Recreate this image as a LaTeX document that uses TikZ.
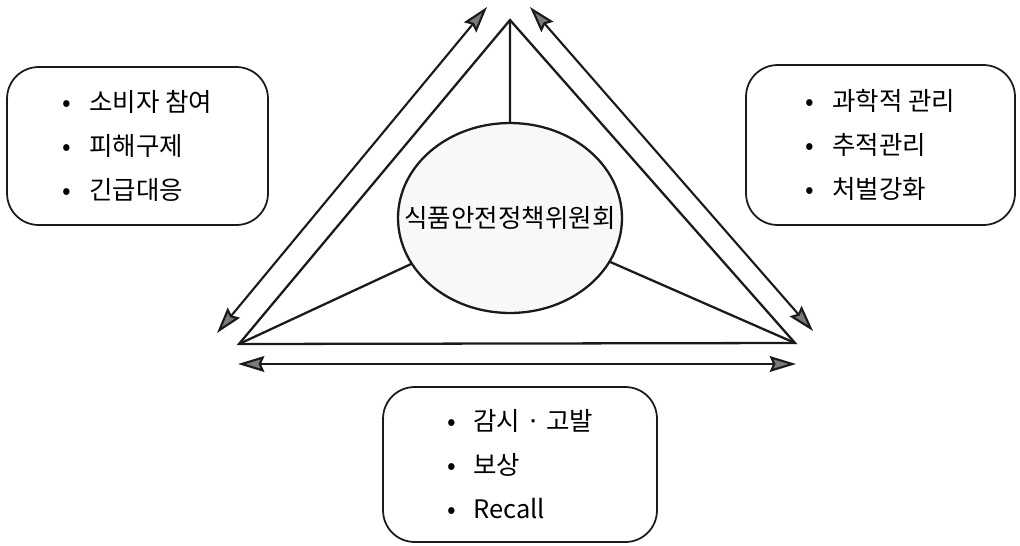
\documentclass[tikz,border=0pt]{standalone}
\usepackage{fontspec}
\setmainfont{Noto Sans CJK KR}
\usepackage{tikz}
\usetikzlibrary{arrows.meta,shapes.geometric}
\definecolor{ink}    {HTML}{1A1A1A}
\definecolor{tipgray}{HTML}{7A7A7A}
\definecolor{dotbg}  {HTML}{F8F8F8}
\tikzset{
  tri/.style={draw=ink,line width=1.3pt,line join=miter},
  link/.style={draw=ink,line width=1.2pt,{Stealth[length=15pt,width=9pt,inset=2pt,fill=tipgray]}-{Stealth[length=15pt,width=9pt,inset=2pt,fill=tipgray]}},
  council/.style={ellipse,draw=ink,line width=1.3pt,fill=dotbg,inner sep=0pt,minimum width=4.48cm,minimum height=3.8cm},
  listbox/.style={draw=ink,line width=1pt,rounded corners=18pt,inner sep=0pt,align=left,font=\fontsize{14.5}{25}\selectfont},
}
\newcommand{\itm}{\textbullet\hspace{0.7em}}
\begin{document}
\begin{tikzpicture}[x=0.02cm,y=-0.02cm]
    \useasboundingbox (0,0) rectangle (1020,545);
    % triangle
    \coordinate (apex) at (510,20);
    \coordinate (lv) at (239,344);
    \coordinate (rv) at (795,343);
    \draw[tri] (apex) -- (lv) -- (rv) -- cycle;
    \draw[tri] (apex) -- (510,218) (lv) -- (510,218) (rv) -- (510,218);
    \node[council] (council) at (510,218) {};
    \node[font=\fontsize{14.5}{17}\selectfont] (ctitle) at (council) {식품안전정책위원회};
    % arrows
    \coordinate (la) at (217,333);
    \coordinate (lb) at (487,7);
    \coordinate (ra) at (530,7);
    \coordinate (rb) at (813,331);
    \coordinate (ba) at (238,364);
    \coordinate (bb) at (796,364);
    \draw[link] (la) -- (lb);
    \draw[link] (ra) -- (rb);
    \draw[link] (ba) -- (bb);
    % boxes
    \node[listbox,minimum width=5.22cm,minimum height=3.16cm] (lbox) at (137.5,146) {\itm 소비자 참여\\\itm 피해구제\\\itm 긴급대응};
    \node[listbox,minimum width=5.38cm,minimum height=3.2cm] (rbox) at (880.5,145) {\itm 과학적 관리\\\itm 추적관리\\\itm 처벌강화};
    \node[listbox,minimum width=5.48cm,minimum height=3.1cm] (bbox) at (520,464.5) {\itm 감시 · 고발\\\itm 보상\\\itm Recall};
  \end{tikzpicture}
\end{document}
